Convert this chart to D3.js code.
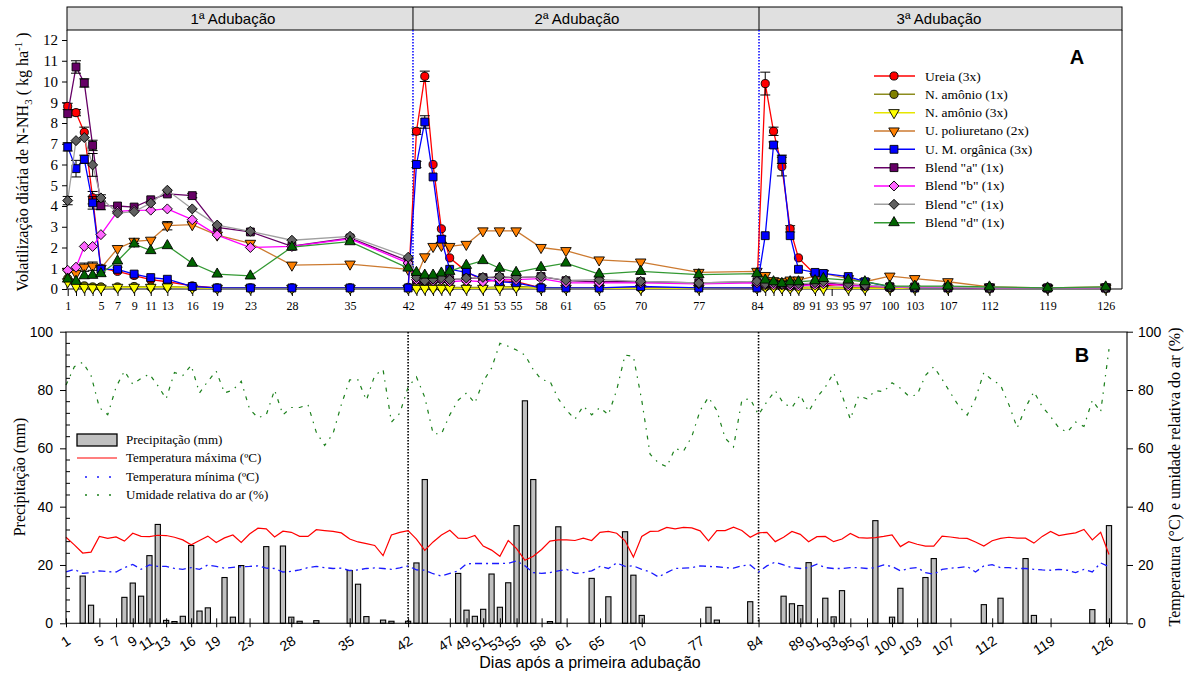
<!DOCTYPE html>
<html>
<head>
<meta charset="utf-8">
<script src="https://cdn.jsdelivr.net/npm/d3@7"></script>
<style>
  body { margin: 0; background: #fff; }
  svg { display: block; }
</style>
</head>
<body>
<div id="chart"></div>
<script>
// ---- panel A: daily NH3 volatilization ----
const sampleDays = [1,2,3,4,5,7,9,11,13,16,19,23,28,35,42,
  43,44,45,46,47,49,51,53,55,58,61,65,70,77,84,
  85,86,87,88,89,91,92,95,97,100,103,107,112,119,126];
const axisLabelDays = [1,5,7,9,11,13,16,19,23,28,35,42,47,49,51,53,55,58,61,65,70,77,84,
  89,91,93,95,97,100,103,107,112,119,126];

const ureia = [8.8,8.5,7.55,4.4,1.0,0.85,0.65,0.45,0.35,0.15,0.05,0.05,0.05,0.05,0.05,
  7.6,10.25,6.0,2.9,1.5,0.85,0.4,0.4,0.35,0.05,0.05,0.05,0.05,0.05,0.05,
  9.9,7.6,5.9,2.9,1.5,0.7,0.15,0.25,0.2,0.05,0.05,0.05,0.05,0.05,0.05];
const nAmonio1 = [0.5,0.3,0.15,0.1,0.1,0.1,0.12,0.1,0.12,0.08,0.05,0.05,0.05,0.05,0.08,
  0.1,0.1,0.08,0.08,0.08,0.08,0.08,0.1,0.12,0.08,0.05,0.05,0.05,0.05,0.08,
  0.1,0.12,0.1,0.08,0.08,0.1,0.1,0.08,0.08,0.05,0.05,0.05,0.05,0.05,0.05];
const nAmonio3 = [0.35,0.12,0.08,0.06,0.04,0.08,0.08,0.08,0.1,0.05,0.03,0.03,0.03,0.03,0.03,
  0.03,0.03,0.03,0.03,0.03,0.03,0.03,0.05,0.08,0.03,0.03,0.03,0.03,0.03,0.05,
  0.1,0.08,0.05,0.05,0.03,0.05,0.03,0.03,0.03,0.03,0.03,0.03,0.03,0.03,0.03];
const poliuretano = [0.85,0.75,1.05,1.1,1.0,1.95,2.3,2.35,3.05,3.1,2.6,2.2,1.15,1.2,0.95,
  0.6,1.55,2.05,2.1,2.05,2.15,2.8,2.8,2.8,2.0,1.85,1.4,1.3,0.8,0.85,
  0.65,0.4,0.35,0.43,0.43,0.62,0.75,0.5,0.35,0.62,0.5,0.35,0.1,0.05,0.1];
const umOrganica = [6.85,5.8,6.25,4.15,0.95,0.95,0.72,0.55,0.47,0.12,0.05,0.05,0.05,0.05,0.05,
  6.0,8.05,5.4,2.4,0.95,0.8,0.5,0.35,0.3,0.05,0.05,0.05,0.12,0.05,0.05,
  2.57,6.94,6.25,2.57,0.95,0.8,0.75,0.6,0.35,0.1,0.05,0.05,0.05,0.05,0.05];
const blendA = [8.45,10.7,9.93,6.92,4.02,4.0,3.95,4.3,4.58,4.5,2.97,2.75,2.06,2.46,1.35,
  0.45,0.4,0.45,0.5,0.45,0.5,0.55,0.55,0.55,0.6,0.4,0.35,0.35,0.3,0.35,
  0.25,0.25,0.2,0.2,0.2,0.25,0.3,0.2,0.15,0.1,0.1,0.08,0.05,0.05,0.05];
const blendB = [0.9,1.05,2.05,2.05,2.62,3.74,3.79,3.8,3.86,3.34,2.6,2.0,2.05,2.42,1.25,
  0.45,0.4,0.4,0.45,0.35,0.4,0.35,0.45,0.45,0.5,0.3,0.3,0.3,0.25,0.3,
  0.2,0.2,0.2,0.15,0.15,0.2,0.25,0.15,0.15,0.08,0.08,0.08,0.05,0.05,0.05];
const blendC = [4.26,7.15,7.3,5.98,4.39,3.66,3.73,4.14,4.76,3.86,3.08,2.78,2.35,2.54,1.53,
  0.56,0.4,0.48,0.53,0.45,0.53,0.56,0.61,0.56,0.61,0.42,0.45,0.37,0.29,0.37,
  0.25,0.3,0.25,0.25,0.25,0.3,0.35,0.25,0.2,0.1,0.1,0.1,0.05,0.05,0.05];
const blendD = [0.48,0.37,0.64,0.66,0.74,1.35,2.17,1.85,2.09,1.24,0.72,0.63,2.02,2.28,1.01,
  0.8,0.67,0.67,0.77,0.85,1.14,1.37,1.0,0.8,1.04,1.25,0.72,0.85,0.69,0.74,
  0.43,0.35,0.27,0.35,0.35,0.4,0.51,0.43,0.35,0.14,0.14,0.14,0.1,0.05,0.1];

// [series key, day, standard error]
const errorBars = [
  ["ur",1,0.15],["ur",2,0.15],["ur",3,0.25],["ur",4,0.3],["ur",43,0.15],["ur",44,0.25],
  ["ur",85,0.55],["ur",86,0.2],["ur",87,0.45],["ur",88,0.15],
  ["um",1,0.2],["um",2,0.4],["um",3,0.2],["um",4,0.3],["um",7,0.1],["um",43,0.15],
  ["um",44,0.3],["um",46,0.15],["um",86,0.15],["um",87,0.2],
  ["ba",2,0.3],["ba",3,0.2],["ba",4,0.25],["ba",5,0.2],["ba",16,0.1],
  ["bc",1,0.2],["bc",4,0.55],["bc",5,0.15],
  ["pu",3,0.2],["pu",4,0.2],["pu",9,0.1],["pu",13,0.2]
];

const periodNames = ["1ª Adubação", "2ª Adubação", "3ª Adubação"];
const periodBreaks = [42.58, 84.25];

// ---- panel B: weather ----
const rainDays = [3,4,8,9,10,11,12,13,14,15,16,17,18,20,21,22,25,27,28,29,31,35,36,37,39,40,42,
  43,44,48,49,50,51,52,53,54,55,56,57,59,60,64,66,68,69,70,78,79,83,
  87,88,89,90,92,93,94,98,100,101,104,105,111,113,116,117,124,126];
const rainMm = [16.2,6.2,8.9,13.8,9.3,23.2,33.9,1.0,0.6,2.4,26.7,4.2,5.3,15.7,2.1,19.8,26.3,26.5,2.1,0.7,0.9,18.1,13.4,2.3,1.1,0.7,0.7,
  20.7,49.3,17.1,4.5,2.4,4.8,16.9,5.5,13.9,33.5,76.3,49.3,0.6,33.1,15.4,9.1,31.4,16.5,2.7,5.5,1.1,7.4,
  9.3,6.7,6.1,20.8,8.6,2.2,11.2,35.2,2.1,12.0,15.7,22.2,6.4,8.6,22.2,2.7,4.7,33.5];

const tMax = [29.5,26.9,24.1,24.4,29.8,29.1,29.6,28.2,30.9,29.8,
  29.7,30.2,30.1,29.5,28.6,26.9,28.4,29.9,27.7,29.3,
  30.3,27.7,30.6,32.6,32.4,29.6,31.6,31.2,29.8,29.8,
  32.1,31.8,31.5,31.0,28.9,27.9,27.3,26.7,23.2,30.3,
  31.2,31.8,28.9,25.0,27.9,30.3,31.9,29.2,29.1,30.1,
  26.5,25.1,23.0,28.4,25.6,21.6,23.0,25.3,28.2,28.6,
  28.6,28.4,29.2,28.4,31.2,31.5,30.9,28.3,22.7,29.8,
  31.5,31.6,32.9,32.4,32.9,32.7,31.7,28.3,31.8,31.8,
  33.0,31.8,29.5,31.0,31.2,28.0,29.5,31.5,30.5,28.0,
  29.7,29.8,28.0,28.9,30.8,29.4,29.2,29.4,29.8,30.3,
  26.3,28.0,27.1,26.5,26.5,29.9,29.6,29.2,29.1,27.9,
  26.5,28.3,29.1,29.5,29.2,29.2,27.5,29.8,31.5,30.1,
  30.6,31.0,32.2,28.6,31.2,23.6];
const tMin = [17.6,18.5,17.1,17.4,18.0,17.7,17.6,19.1,20.2,18.5,
  20.0,19.5,19.5,18.8,18.5,19.1,18.5,20.0,19.5,18.9,
  19.2,19.4,19.5,19.7,18.9,18.8,17.6,17.8,18.3,19.1,
  19.5,19.1,18.8,18.9,18.1,18.3,18.8,19.0,18.8,18.5,
  19.0,19.7,18.3,18.2,17.0,16.2,17.1,18.0,20.4,20.5,
  20.5,20.5,20.5,20.6,21.4,19.7,17.4,17.1,17.4,18.0,
  18.5,17.1,17.4,18.0,19.5,18.8,20.7,19.5,19.7,18.5,
  17.6,15.9,17.4,18.8,18.9,19.1,19.7,19.5,19.4,19.1,
  18.9,19.7,20.0,17.6,19.7,21.0,20.0,19.1,18.8,19.1,
  20.3,19.1,18.8,18.8,19.1,19.1,18.8,19.1,20.0,19.5,
  18.0,18.8,19.1,17.4,16.8,18.5,18.9,19.1,19.5,17.6,
  19.7,20.1,19.1,19.1,18.8,18.8,18.5,18.3,18.2,18.5,
  18.2,17.4,18.5,17.6,20.7,19.4];
const humidity = [81.7,88,89.5,85,74,71.5,81,86.5,82,84,
  85.5,81.5,77,86,85,88.5,79,83,86.5,79,
  80,83,73.5,70.5,71.5,80,71.5,74,74,75,
  65.5,61,65,75,83.5,83.5,76.5,85,87,69,
  72,81,84.5,77.5,65,65,71.5,76.5,79,75.5,
  83,87.5,96,95,93.7,92,87,83.5,83,77,
  73,70,74.5,71.5,74,71.5,80,92,91.5,76.5,
  58,55,53.7,60,59,64,73,77.5,73,63.5,
  60.5,76.5,77,71.5,76,79.8,75.4,74,78.3,72.6,
  77.5,81,85.9,78.3,70,78,77,79.8,79.4,82.5,
  80.6,77.9,78.3,85,88,83.7,79,74.5,71.4,77,
  86,83.4,81.7,75,67,74,79.4,74.3,70.9,67,
  65.5,69,67.5,76.5,72.5,94];

const serif = "'Liberation Serif', 'Times New Roman', serif";
const sans = "'Liberation Sans', Arial, sans-serif";

const series = [
  { key: "ur", name: "Ureia (3x)", values: ureia, line: "#ff0000", fill: "#ff0000", shape: "circle" },
  { key: "n1", name: "N. amônio (1x)", values: nAmonio1, line: "#8c8c1e", fill: "#808000", shape: "circle" },
  { key: "n3", name: "N. amônio (3x)", values: nAmonio3, line: "#e6e600", fill: "#ffff00", shape: "triDown" },
  { key: "pu", name: "U. poliuretano (2x)", values: poliuretano, line: "#cc7a30", fill: "#ff8000", shape: "triDown" },
  { key: "um", name: "U. M. orgânica (3x)", values: umOrganica, line: "#0000ff", fill: "#0000ff", shape: "square" },
  { key: "ba", name: "Blend \"a\" (1x)", values: blendA, line: "#660066", fill: "#660066", shape: "square" },
  { key: "bb", name: "Blend \"b\" (1x)", values: blendB, line: "#ff00ff", fill: "#ff66ff", shape: "diamond" },
  { key: "bc", name: "Blend \"c\" (1x)", values: blendC, line: "#a0a0a0", fill: "#606060", shape: "diamond" },
  { key: "bd", name: "Blend \"d\" (1x)", values: blendD, line: "#339933", fill: "#006400", shape: "triUp" }
];

const symbolPath = {
  circle: d3.symbol(d3.symbolCircle, 52)(),
  square: d3.symbol(d3.symbolSquare, 62)(),
  triUp: d3.symbol(d3.symbolTriangle, 48)(),
  triDown: d3.symbol(d3.symbolTriangle, 48)(),
  diamond: d3.symbol(d3.symbolSquare, 50)()
};
const symbolRot = { circle: 0, square: 0, triUp: 0, triDown: 180, diamond: 45 };

const svg = d3.select("#chart").append("svg")
  .attr("width", 1186).attr("height", 674);

// ================= PANEL A =================
const A = { left: 67, right: 1122, top: 30, bottom: 289, head: 7 };
const xA = d3.scaleLinear().domain([1, 126]).range([67.7, 1105.7]);
const yA = d3.scaleLinear().domain([0, 12]).range([289, 40]);

// header strip
svg.append("rect")
  .attr("x", A.left).attr("y", A.head)
  .attr("width", A.right - A.left).attr("height", A.top - A.head)
  .attr("fill", "#e0e0e0").attr("stroke", "#000").attr("stroke-width", 1);
periodBreaks.forEach(d => {
  svg.append("line")
    .attr("x1", xA(d)).attr("x2", xA(d)).attr("y1", A.head).attr("y2", A.top)
    .attr("stroke", "#000");
});
const headerX = [233, 577, 939];
periodNames.forEach((t, i) => {
  svg.append("text")
    .attr("x", headerX[i]).attr("y", 24)
    .attr("text-anchor", "middle")
    .style("font-family", sans).style("font-size", "15px")
    .text(t);
});

// box
svg.append("path")
  .attr("d", `M${A.left},${A.top}V${A.bottom}H${A.right}V${A.top}`)
  .attr("fill", "none").attr("stroke", "#000").attr("stroke-width", 1);

// period dividers inside plot
periodBreaks.forEach(d => {
  svg.append("line")
    .attr("x1", xA(d)).attr("x2", xA(d)).attr("y1", A.top).attr("y2", A.bottom)
    .attr("stroke", "#0000ff").attr("stroke-width", 1.5)
    .attr("stroke-dasharray", "1.5,1.5");
});

// y axis
const yAxisA = svg.append("g")
  .attr("transform", `translate(${A.left},0)`)
  .call(d3.axisLeft(yA).tickValues(d3.range(0, 13)).tickSize(5).tickPadding(4));
yAxisA.select(".domain").remove();
yAxisA.selectAll("text").style("font-family", serif).style("font-size", "15px");

// x axis
const tickDaysA = Array.from(new Set(sampleDays.concat(axisLabelDays))).sort((a, b) => a - b);
const xAxisA = svg.append("g")
  .attr("transform", `translate(0,${A.bottom})`)
  .call(d3.axisBottom(xA).tickValues(tickDaysA).tickSize(7).tickPadding(5)
    .tickFormat(d => axisLabelDays.includes(d) ? d : ""));
xAxisA.select(".domain").remove();
xAxisA.selectAll("text").style("font-family", serif).style("font-size", "12px");

// series
const lineA = d3.line().x((d, i) => xA(sampleDays[i])).y(d => yA(d));
series.forEach(s => {
  const g = svg.append("g");
  g.append("path")
    .datum(s.values)
    .attr("fill", "none")
    .attr("stroke", s.line)
    .attr("stroke-width", 1.3)
    .attr("d", lineA);

  errorBars.filter(e => e[0] === s.key).forEach(e => {
    const v = s.values[sampleDays.indexOf(e[1])];
    const cx = xA(e[1]);
    const y1 = yA(v - e[2]), y2 = yA(v + e[2]);
    g.append("path")
      .attr("d", `M${cx},${y1}V${y2}M${cx - 5},${y1}H${cx + 5}M${cx - 5},${y2}H${cx + 5}`)
      .attr("stroke", "#000").attr("stroke-width", 1).attr("fill", "none");
  });

  g.selectAll("path.mk")
    .data(s.values)
    .join("path")
    .attr("class", "mk")
    .attr("d", symbolPath[s.shape])
    .attr("transform", (d, i) => `translate(${xA(sampleDays[i])},${yA(d)}) rotate(${symbolRot[s.shape]})`)
    .attr("fill", s.fill)
    .attr("stroke", "#000")
    .attr("stroke-width", 0.9);
});

// legend A
const legA = svg.append("g");
series.forEach((s, i) => {
  const cy = 76 + i * 18.33;
  legA.append("line")
    .attr("x1", 874).attr("x2", 915).attr("y1", cy).attr("y2", cy)
    .attr("stroke", s.line).attr("stroke-width", 1.5);
  legA.append("path")
    .attr("d", symbolPath[s.shape])
    .attr("transform", `translate(894,${cy}) rotate(${symbolRot[s.shape]})`)
    .attr("fill", s.fill).attr("stroke", "#000").attr("stroke-width", 0.9);
  legA.append("text")
    .attr("x", 925).attr("y", cy + 4.5)
    .style("font-family", serif).style("font-size", "13.5px")
    .text(s.name);
});

svg.append("text")
  .attr("x", 1077).attr("y", 64).attr("text-anchor", "middle")
  .style("font-family", sans).style("font-size", "20px").style("font-weight", "bold")
  .text("A");

// y title A
const titleA = svg.append("text")
  .attr("transform", "translate(28,162) rotate(-90)")
  .attr("text-anchor", "middle")
  .style("font-family", serif).style("font-size", "16px");
titleA.append("tspan").text("Volatilização diária de N-NH");
titleA.append("tspan").attr("dy", 4).style("font-size", "11px").text("3");
titleA.append("tspan").attr("dy", -4).text(" ( kg ha");
titleA.append("tspan").attr("dy", -6).style("font-size", "11px").text("-1");
titleA.append("tspan").attr("dy", 6).text(" )");

// ================= PANEL B =================
const B = { left: 66, right: 1127, top: 332, bottom: 623.3 };
const xB = d3.scaleLinear().domain([1, 126]).range([66, 1109]);
const yB = d3.scaleLinear().domain([0, 100]).range([623.3, 331.7]);
const allDays = d3.range(1, 127);

// bars
svg.append("g").selectAll("rect")
  .data(rainMm)
  .join("rect")
  .attr("x", (d, i) => xB(rainDays[i]) - 2.6)
  .attr("width", 5.2)
  .attr("y", d => yB(d))
  .attr("height", d => yB(0) - yB(d))
  .attr("fill", "#c0c0c0")
  .attr("stroke", "#000")
  .attr("stroke-width", 1.1);

// dividers
[42, 84].forEach(d => {
  svg.append("line")
    .attr("x1", xB(d)).attr("x2", xB(d)).attr("y1", B.top).attr("y2", B.bottom)
    .attr("stroke", "#000").attr("stroke-width", 1.6)
    .attr("stroke-dasharray", "1.5,1.5");
});

const lineB = vals => d3.line().x((d, i) => xB(allDays[i])).y(d => yB(d))(vals);
svg.append("path").attr("d", lineB(humidity))
  .attr("fill", "none").attr("stroke", "#1a7f1a").attr("stroke-width", 1.2)
  .attr("stroke-dasharray", "4,6,1.5,6");
svg.append("path").attr("d", lineB(tMin))
  .attr("fill", "none").attr("stroke", "#1a1aff").attr("stroke-width", 1.3)
  .attr("stroke-dasharray", "7,4,2,4");
svg.append("path").attr("d", lineB(tMax))
  .attr("fill", "none").attr("stroke", "#ff0000").attr("stroke-width", 1.2);

// box
svg.append("path")
  .attr("d", `M${B.left},${B.bottom}V${B.top}H${B.right}V${B.bottom}H${B.left}`)
  .attr("fill", "none").attr("stroke", "#000").attr("stroke-width", 1.1);

// left axis
const yAxisB = svg.append("g")
  .attr("transform", `translate(${B.left},0)`)
  .call(d3.axisLeft(yB).tickValues(d3.range(0, 101, 20)).tickSize(6).tickPadding(7));
yAxisB.select(".domain").remove();
yAxisB.selectAll("text").style("font-family", sans).style("font-size", "14px");
svg.append("g").selectAll("line")
  .data(d3.range(4, 100, 4).filter(v => v % 20 !== 0))
  .join("line")
  .attr("x1", B.left).attr("x2", B.left + 4)
  .attr("y1", d => yB(d)).attr("y2", d => yB(d))
  .attr("stroke", "#000");

// right axis
const yAxisB2 = svg.append("g")
  .attr("transform", `translate(${B.right},0)`)
  .call(d3.axisRight(yB).tickValues(d3.range(0, 101, 20)).tickSize(6).tickPadding(5));
yAxisB2.select(".domain").remove();
yAxisB2.selectAll("text").style("font-family", sans).style("font-size", "14px");

// x axis
const xAxisB = svg.append("g")
  .attr("transform", `translate(0,${B.bottom})`)
  .call(d3.axisBottom(xB).tickValues(axisLabelDays).tickSize(4));
xAxisB.select(".domain").remove();
xAxisB.selectAll(".tick line").attr("y1", -5);
xAxisB.selectAll("text")
  .attr("y", 0).attr("dy", 0)
  .attr("text-anchor", "end")
  .attr("transform", "translate(5,20) rotate(-33)")
  .style("font-family", sans).style("font-size", "14px");

// legend B
const legB = svg.append("g").style("font-family", serif).style("font-size", "13px");
legB.append("rect").attr("x", 77).attr("y", 434).attr("width", 40).attr("height", 12)
  .attr("fill", "#c0c0c0").attr("stroke", "#000").attr("stroke-width", 1.3);
legB.append("line").attr("x1", 77).attr("x2", 117).attr("y1", 458).attr("y2", 458)
  .attr("stroke", "#ff0000").attr("stroke-width", 1.2);
legB.append("line").attr("x1", 85).attr("x2", 117).attr("y1", 477).attr("y2", 477)
  .attr("stroke", "#1a1aff").attr("stroke-width", 1.5).attr("stroke-dasharray", "2,10");
legB.append("line").attr("x1", 85).attr("x2", 117).attr("y1", 495).attr("y2", 495)
  .attr("stroke", "#1a7f1a").attr("stroke-width", 1.5).attr("stroke-dasharray", "2,10");
["Precipitação (mm)", "Temperatura máxima (ºC)", "Temperatura mínima (ºC)", "Umidade relativa do ar (%)"]
  .forEach((t, i) => {
    legB.append("text").attr("x", 126).attr("y", [444, 462, 481, 499][i]).text(t);
  });

svg.append("text")
  .attr("x", 1082).attr("y", 362).attr("text-anchor", "middle")
  .style("font-family", sans).style("font-size", "20px").style("font-weight", "bold")
  .text("B");

svg.append("text")
  .attr("transform", "translate(25,477) rotate(-90)")
  .attr("text-anchor", "middle")
  .style("font-family", serif).style("font-size", "16px")
  .text("Precipitação (mm)");

svg.append("text")
  .attr("transform", "translate(1180,477) rotate(-90)")
  .attr("text-anchor", "middle")
  .style("font-family", serif).style("font-size", "16px")
  .text("Temperatura (°C) e umidade relativa do ar (%)");

svg.append("text")
  .attr("x", 590).attr("y", 668).attr("text-anchor", "middle")
  .style("font-family", sans).style("font-size", "16px")
  .text("Dias após a primeira adubação");
</script>
</body>
</html>
